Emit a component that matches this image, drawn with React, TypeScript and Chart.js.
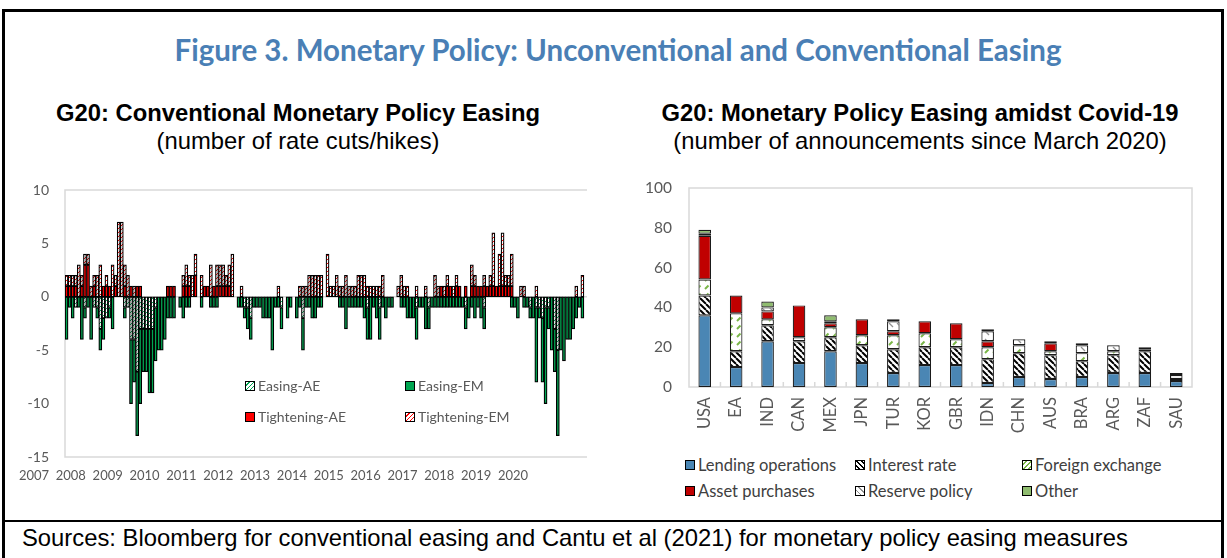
import React, { useEffect, useRef } from 'react';
import { Chart, registerables } from 'chart.js';
Chart.register(...registerables);

// ---------- Left chart data (monthly, Jan 2007 - Feb 2021) ----------
const yearLabels = ['2007','2008','2009','2010','2011','2012','2013','2014','2015','2016','2017','2018','2019','2020'];
const monthLabels: string[] = [];
for (let y = 2007; y <= 2021; y++) {
  for (let m = 1; m <= 12; m++) {
    if (monthLabels.length < 170) monthLabels.push(`${y}-${String(m).padStart(2, '0')}`);
  }
}
const easingAE = [
  0,0,0,-1,0,0,-1,0,0,-1,
  -1,-3,-2,-2,-1,0,0,0,0,-1,
  -1,-4,-4,-7,-3,-3,-3,-3,-3,-1,
  0,0,0,0,0,0,0,0,0,0,
  0,0,0,0,0,0,0,0,0,0,
  0,0,0,0,0,0,0,0,-1,-1,
  -2,0,0,0,0,0,0,0,0,0,
  -1,0,0,0,0,0,0,-2,0,0,
  0,0,0,0,0,0,0,0,0,0,
  0,0,0,0,0,0,0,0,-1,0,
  0,0,-1,0,0,0,0,0,0,0,
  0,0,0,0,-1,0,0,0,-1,0,
  0,0,0,0,0,0,0,0,0,0,
  -1,0,0,0,0,0,-1,0,0,0,
  0,0,0,0,0,0,0,0,0,0,
  0,-1,0,-1,-1,-2,-1,-1,0,-3,
  -5,0,0,0,0,0,0,0,0,0,
];
const easingEM = [
  -4,-1,-2,0,-1,-4,-1,-1,-4,0,
  -1,-2,-2,0,-1,-3,0,0,0,-1,
  0,-6,-4,-6,-7,-4,-4,-6,-6,-5,
  -5,-5,-4,-2,-2,-2,0,-1,-2,-1,
  -1,0,0,0,-1,0,0,-1,-1,-1,
  0,0,0,0,0,0,-1,-1,-1,-2,
  -2,-1,-1,-1,-2,-2,-2,-5,-1,-1,
  -2,0,-2,-1,0,-2,-1,-3,-1,-1,
  -2,-2,-1,-1,0,0,0,0,0,-1,
  -1,-3,-1,-1,-1,-1,-1,-2,-3,-4,
  -1,-2,-3,-1,-2,-1,-1,0,0,-1,
  -1,-2,-2,-2,-3,-1,-1,-3,-2,-1,
  -1,-1,-1,-1,-1,-1,-1,-1,-1,-1,
  -2,-2,-1,-2,-1,-2,-2,0,0,0,
  0,0,0,0,0,-1,-1,-2,0,-1,
  -1,-1,-2,-7,-1,-6,-9,-2,-5,-4,
  -8,-5,-6,-4,-4,-3,-2,-1,-2,0,
];
const tighteningAE = [
  1,1,1,1,0,1,3,3,0,1,
  0,0,1,1,1,0,1,0,0,1,
  0,1,0,1,1,0,0,0,0,0,
  0,0,0,1,1,1,0,0,1,1,
  1,0,2,0,0,1,1,0,1,1,
  1,1,1,1,0,0,0,0,0,0,
  0,0,0,0,0,0,0,0,0,0,
  0,0,0,0,0,0,0,0,0,0,
  0,0,0,0,0,0,0,0,0,0,
  0,0,0,0,0,0,0,0,0,0,
  0,0,0,0,0,0,0,0,0,0,
  0,0,0,0,0,0,0,0,0,0,
  0,0,1,0,1,1,0,1,1,0,
  1,0,1,1,1,1,1,1,1,1,
  1,1,1,1,1,1,0,0,0,0,
  0,0,0,0,0,0,0,0,0,0,
  0,0,0,0,0,0,0,0,0,0,
];
const tighteningEM = [
  1,1,1,1,3,1,1,1,1,1,
  2,3,0,1,0,3,1,7,7,2,
  2,0,1,0,0,0,0,0,0,0,
  0,0,0,0,0,0,0,0,1,2,
  1,2,2,0,2,0,0,3,0,2,
  2,2,1,2,4,0,0,1,0,0,
  0,0,0,0,0,0,0,0,0,1,
  0,0,0,0,0,0,1,1,1,2,
  2,2,2,2,0,4,1,1,2,1,
  1,2,1,1,1,2,2,2,1,1,
  1,1,1,2,0,0,0,0,1,2,
  1,1,0,0,1,0,0,1,0,0,
  2,1,0,1,1,0,1,1,0,0,
  0,0,2,1,0,0,1,0,1,5,
  0,3,5,1,1,3,0,0,1,1,
  0,0,0,1,0,0,0,0,0,0,
  0,0,0,0,0,0,1,0,2,0,
];
const leftTicks = [-15, -10, -5, 0, 5, 10];

// ---------- Right chart data ----------
const countries = ['USA','EA','IND','CAN','MEX','JPN','TUR','KOR','GBR','IDN','CHN','AUS','BRA','ARG','ZAF','SAU'];
const lendingOps = [36,10,23,12,18,12,7,11,11,2,5,4,5,7,7,3];
const interestRate = [10,8,8,11,7,9,12,9,9,12,12,12,8,9,11,1];
const foreignExchange = [8,19,3,2,5,5,7,7,4,6,4,2,4,2,1,0];
const assetPurchases = [22,9,4,16,2,8,2,6,8,3,0,4,0,0,1,0];
const reservePolicy = [1,0,2,0,1,0,5,0,0,5,3,1,4,3,0,2];
const otherMeasures = [2,0,3,0,3,0,1,0,0,1,0,0,1,0,0,1];

const GREEN = '#00a651';
const RED = '#ff0000';
const AXIS = '#595959';
const LINE = '#d9d9d9';
const CAL = 'Lato, "Open Sans", sans-serif';
const ARIAL = '"Liberation Sans", Arial, sans-serif';

function linePattern(size: number, bg: string, fg: string, lw: number, dir: '/' | '\\', seg?: [number, number, number, number]) {
  const c = document.createElement('canvas');
  c.width = size; c.height = size;
  const x = c.getContext('2d')!;
  x.fillStyle = bg; x.fillRect(0, 0, size, size);
  x.strokeStyle = fg; x.lineWidth = lw; x.lineCap = 'butt';
  x.beginPath();
  if (seg) {
    x.moveTo(seg[0], seg[1]); x.lineTo(seg[2], seg[3]);
  } else {
    for (const o of [-size, 0, size]) {
      if (dir === '/') { x.moveTo(o, size); x.lineTo(o + size, 0); }
      else { x.moveTo(o, 0); x.lineTo(o + size, size); }
    }
  }
  x.stroke();
  return x.createPattern(c, 'repeat')!;
}

const leftFrame = {
  id: 'leftFrame',
  beforeDatasetsDraw(chart: any) {
    const { ctx, chartArea: a, scales } = chart;
    ctx.save();
    ctx.strokeStyle = LINE; ctx.lineWidth = 1.5;
    ctx.beginPath();
    ctx.moveTo(a.right, a.top); ctx.lineTo(a.left, a.top); ctx.lineTo(a.left, a.bottom); ctx.lineTo(a.right, a.bottom);
    const y0 = scales.y.getPixelForValue(0);
    ctx.moveTo(a.left, y0); ctx.lineTo(a.right, y0);
    ctx.stroke();
    ctx.restore();
  },
  afterDraw(chart: any) {
    const { ctx, chartArea: a, scales } = chart;
    ctx.save();
    ctx.fillStyle = AXIS; ctx.font = `13px ${CAL}`;
    ctx.textAlign = 'center'; ctx.textBaseline = 'middle';
    yearLabels.forEach((lab, k) => {
      const x = scales.x.getPixelForValue(12 * k - 10.6);
      ctx.fillText(lab, x, a.bottom + 19);
    });
    ctx.restore();
  },
};

const rightFrame = {
  id: 'rightFrame',
  beforeDatasetsDraw(chart: any) {
    const { ctx, chartArea: a, scales } = chart;
    ctx.save();
    ctx.strokeStyle = LINE; ctx.lineWidth = 1.5;
    ctx.strokeRect(a.left, a.top, a.right - a.left, a.bottom - a.top);
    ctx.beginPath();
    for (let i = 1; i < countries.length; i++) {
      const x = scales.x.getPixelForValue(i - 0.5);
      ctx.moveTo(x, a.bottom); ctx.lineTo(x, a.bottom - 5);
    }
    ctx.stroke();
    ctx.restore();
  },
};

function LeftChart() {
  const ref = useRef<HTMLCanvasElement>(null);
  useEffect(() => {
    const aePat = linePattern(4, '#ffffff', GREEN, 1, '/');
    const emPat = linePattern(4, '#ffffff', RED, 1, '/');
    const common = { borderColor: '#000000', borderWidth: 1.25, borderSkipped: false, barPercentage: 1, categoryPercentage: 1 };
    const chart = new Chart(ref.current!, {
      type: 'bar',
      data: {
        labels: monthLabels,
        datasets: [
          { label: 'Easing-AE', data: easingAE, backgroundColor: aePat, ...common },
          { label: 'Easing-EM', data: easingEM, backgroundColor: GREEN, ...common },
          { label: 'Tightening-AE', data: tighteningAE, backgroundColor: RED, ...common },
          { label: 'Tightening-EM', data: tighteningEM, backgroundColor: emPat, ...common },
        ] as any,
      },
      options: {
        animation: false,
        responsive: false,
        devicePixelRatio: 1,
        layout: { padding: { left: 0, top: 10, right: 8, bottom: 3 } },
        plugins: { legend: { display: false }, tooltip: { enabled: false } },
        scales: {
          x: {
            stacked: true,
            grid: { display: false, drawTicks: false },
            border: { display: false },
            ticks: { display: false, padding: 0 },
            afterFit: (s: any) => { s.height = 30; },
          },
          y: {
            stacked: true,
            min: -15, max: 10,
            afterBuildTicks: (s: any) => { s.ticks = leftTicks.map((v) => ({ value: v })); },
            grid: { display: false, drawTicks: true, tickLength: 16 },
            border: { display: false },
            ticks: { color: AXIS, font: { family: CAL, size: 14 }, padding: 0 },
            afterFit: (s: any) => { s.width = 50; },
          },
        },
      } as any,
      plugins: [leftFrame],
    });
    return () => chart.destroy();
  }, []);
  return <canvas ref={ref} width={580} height={310} style={{ position: 'absolute', left: 15, top: 180 }} />;
}

function RightChart() {
  const ref = useRef<HTMLCanvasElement>(null);
  useEffect(() => {
    const irPat = linePattern(6, '#ffffff', '#000000', 2, '\\');
    const fxPat = linePattern(8, '#ffffff', '#7ab648', 2, '/', [1, 7, 4.5, 3.5]);
    const rpPat = linePattern(8, '#ffffff', '#909090', 1.2, '\\', [1, 1, 5, 5]);
    const common = { borderColor: '#1a1a1a', borderWidth: 1.2, borderSkipped: false, barPercentage: 0.8, categoryPercentage: 0.5 };
    const chart = new Chart(ref.current!, {
      type: 'bar',
      data: {
        labels: countries,
        datasets: [
          { label: 'Lending operations', data: lendingOps, backgroundColor: '#4a86b4', ...common },
          { label: 'Interest rate', data: interestRate, backgroundColor: irPat, ...common },
          { label: 'Foreign exchange', data: foreignExchange, backgroundColor: fxPat, ...common },
          { label: 'Asset purchases', data: assetPurchases, backgroundColor: '#c00000', ...common },
          { label: 'Reserve policy', data: reservePolicy, backgroundColor: rpPat, ...common },
          { label: 'Other', data: otherMeasures, backgroundColor: '#8fbc6f', ...common },
        ] as any,
      },
      options: {
        animation: false,
        responsive: false,
        devicePixelRatio: 1,
        layout: { padding: { left: 0, top: 10, right: 18, bottom: 0 } },
        plugins: { legend: { display: false }, tooltip: { enabled: false } },
        scales: {
          x: {
            stacked: true,
            grid: { display: false, drawTicks: true, tickLength: 10 },
            border: { display: false },
            ticks: { color: AXIS, font: { family: CAL, size: 16.5 }, padding: 0, minRotation: 90, maxRotation: 90, autoSkip: false },
            afterFit: (s: any) => { s.height = 56; },
          },
          y: {
            stacked: true,
            min: 0, max: 100,
            ticks: { stepSize: 20, color: AXIS, font: { family: CAL, size: 15.5 }, padding: 0 },
            grid: { display: false, drawTicks: true, tickLength: 17 },
            border: { display: false },
            afterFit: (s: any) => { s.width = 49; },
          },
        },
      } as any,
      plugins: [rightFrame],
    });
    return () => chart.destroy();
  }, []);
  return <canvas ref={ref} width={570} height={265} style={{ position: 'absolute', left: 640, top: 178 }} />;
}

const sq = (bg: string): React.CSSProperties => ({
  position: 'absolute', width: 8, height: 8, border: '1px solid #000', background: bg, boxSizing: 'content-box',
});

function LegendItem({ x, y, bg, text, size, color }: { x: number; y: number; bg: string; text: string; size: number; color: string }) {
  return (
    <>
      <div style={{ ...sq(bg), left: x, top: y - 5 }} />
      <div style={{ position: 'absolute', left: x + 13, top: y - 11, lineHeight: '22px', fontFamily: CAL, fontSize: size, color, whiteSpace: 'nowrap' }}>{text}</div>
    </>
  );
}

export default function App() {
  useEffect(() => { document.body.style.margin = '0'; }, []);
  const stripes = (c: string, w = 1) => `repeating-linear-gradient(135deg, #fff 0 2px, ${c} 2px ${2 + w}px)`;
  return (
    <div style={{ position: 'relative', width: 1227, height: 558, background: '#fff', overflow: 'hidden' }}>
      {/* frame */}
      <div style={{ position: 'absolute', left: 2, top: 9, width: 1222, height: 3, background: '#000' }} />
      <div style={{ position: 'absolute', left: 2, top: 9, width: 3, height: 560, background: '#000' }} />
      <div style={{ position: 'absolute', left: 1221, top: 9, width: 3, height: 560, background: '#000' }} />
      <div style={{ position: 'absolute', left: 2, top: 520, width: 1222, height: 2, background: '#000' }} />

      <div style={{ position: 'absolute', left: 0, top: 32, width: 1236, textAlign: 'center', lineHeight: '36px', fontFamily: CAL, fontWeight: 700, fontSize: 29.5, color: '#4a7fb5', whiteSpace: 'nowrap' }}>
        Figure 3. Monetary Policy: Unconventional and Conventional Easing
      </div>

      <div style={{ position: 'absolute', left: 0, top: 99, width: 596, textAlign: 'center', lineHeight: '28px', fontFamily: ARIAL, fontWeight: 700, fontSize: 23.8, color: '#000', whiteSpace: 'nowrap' }}>
        G20: Conventional Monetary Policy Easing
      </div>
      <div style={{ position: 'absolute', left: 0, top: 127, width: 596, textAlign: 'center', lineHeight: '28px', fontFamily: ARIAL, fontSize: 23.8, color: '#000', whiteSpace: 'nowrap' }}>
        (number of rate cuts/hikes)
      </div>
      <div style={{ position: 'absolute', left: 620, top: 99, width: 600, textAlign: 'center', lineHeight: '28px', fontFamily: ARIAL, fontWeight: 700, fontSize: 23.8, color: '#000', whiteSpace: 'nowrap' }}>
        G20: Monetary Policy Easing amidst Covid-19
      </div>
      <div style={{ position: 'absolute', left: 620, top: 127, width: 600, textAlign: 'center', lineHeight: '28px', fontFamily: ARIAL, fontSize: 23.8, color: '#000', whiteSpace: 'nowrap' }}>
        (number of announcements since March 2020)
      </div>

      <LeftChart />
      <RightChart />

      {/* left legend */}
      <LegendItem x={245} y={386} bg={stripes(GREEN)} text="Easing-AE" size={14} color={AXIS} />
      <LegendItem x={405} y={386} bg={GREEN} text="Easing-EM" size={14} color={AXIS} />
      <LegendItem x={245} y={417} bg={RED} text="Tightening-AE" size={14} color={AXIS} />
      <LegendItem x={405} y={417} bg={stripes(RED)} text="Tightening-EM" size={14} color={AXIS} />

      {/* right legend */}
      <LegendItem x={685} y={465} bg="#4a86b4" text="Lending operations" size={16.5} color="#404040" />
      <LegendItem x={855} y={465} bg="repeating-linear-gradient(45deg, #fff 0 1.5px, #000 1.5px 3.5px)" text="Interest rate" size={16.5} color="#404040" />
      <LegendItem x={1022} y={465} bg={stripes('#7ab648', 1.5)} text="Foreign exchange" size={16.5} color="#404040" />
      <LegendItem x={685} y={491} bg="#c00000" text="Asset purchases" size={16.5} color="#404040" />
      <LegendItem x={855} y={491} bg="repeating-linear-gradient(45deg, #fff 0 3px, #909090 3px 4px)" text="Reserve policy" size={16.5} color="#404040" />
      <LegendItem x={1022} y={491} bg="#8fbc6f" text="Other" size={16.5} color="#404040" />

      <div style={{ position: 'absolute', left: 22, top: 524, lineHeight: '28px', fontFamily: ARIAL, fontSize: 23.8, color: '#000', whiteSpace: 'nowrap' }}>
        Sources: Bloomberg for conventional easing and Cantu et al (2021) for monetary policy easing measures
      </div>
    </div>
  );
}
